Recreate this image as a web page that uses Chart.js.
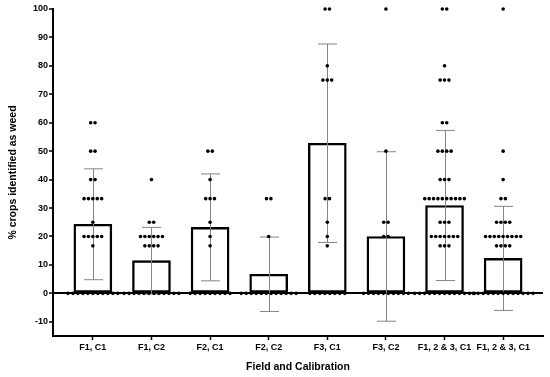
<!DOCTYPE html>
<html>
<head>
<meta charset="utf-8">
<script src="https://cdn.jsdelivr.net/npm/chart.js@4"></script>
<style>
  html, body { margin: 0; padding: 0; background: #fff; }
  canvas { display: block; }
</style>
</head>
<body>
<canvas id="weedChart" width="550" height="377"></canvas>
<script>
// ---- data ----
const categories = ["F1, C1", "F1, C2", "F2, C1", "F2, C2", "F3, C1", "F3, C2", "F1, 2 & 3, C1", "F1, 2 & 3, C1"];
const meanValues = [24.3, 11.5, 23.2, 6.7, 52.8, 20.0, 30.9, 12.3];
const sdValues   = [19.5, 11.7, 18.8, 13.1, 34.9, 29.8, 26.4, 18.3];

// individual points: how many points sit at each level, per category
const pointLevels = [100, 80, 75, 60, 50, 40, 33.3, 25, 20, 16.7, 0];
const pointCounts = [
  [0, 0, 0, 2, 2, 2, 5,  1, 5, 1, 11],  // F1, C1
  [0, 0, 0, 0, 0, 1, 0,  2, 6, 4, 12],  // F1, C2
  [0, 0, 0, 0, 2, 1, 3,  1, 1, 1, 9],   // F2, C1
  [0, 0, 0, 0, 0, 0, 2,  0, 1, 0, 12],  // F2, C2
  [2, 1, 3, 0, 0, 0, 2,  1, 1, 1, 8],   // F3, C1
  [1, 0, 0, 0, 1, 0, 0,  2, 2, 0, 10],  // F3, C2
  [2, 1, 3, 2, 4, 3, 10, 3, 7, 3, 13],  // F1, 2 & 3, C1
  [1, 0, 0, 0, 1, 1, 2,  4, 9, 4, 13]   // F1, 2 & 3, C1 (second)
];

const yTicks = [-10, 0, 10, 20, 30, 40, 50, 60, 70, 80, 90, 100];

// ---- point layout (rows centred on the category) ----
const DOT_STEP = 0.075;   // horizontal gap between tied points, in category units
const ZERO_STEP = 0.085;

const dots = [];
pointCounts.forEach((counts, ci) => {
  counts.forEach((n, li) => {
    const step = pointLevels[li] === 0 ? ZERO_STEP : DOT_STEP;
    for (let k = 0; k < n; k++) {
      dots.push({ x: ci + (k - (n - 1) / 2) * step, y: pointLevels[li] });
    }
  });
});

// ---- error bars ----
const errorBars = {
  id: "errorBars",
  afterDatasetDraw(chart, args) {
    if (args.index !== 0) return;
    const { ctx, scales } = chart;
    const xs = scales.x, ys = scales.y;
    ctx.save();
    ctx.strokeStyle = "#858585";
    ctx.lineWidth = 1;
    meanValues.forEach((m, i) => {
      const px = Math.round(xs.getPixelForValue(i)) + 0.5;
      const top = ys.getPixelForValue(m + sdValues[i]);
      const bot = ys.getPixelForValue(m - sdValues[i]);
      ctx.beginPath();
      ctx.moveTo(px, top);
      ctx.lineTo(px, bot);
      ctx.moveTo(px - 9.5, top);
      ctx.lineTo(px + 9.5, top);
      ctx.moveTo(px - 9.5, bot);
      ctx.lineTo(px + 9.5, bot);
      ctx.stroke();
    });
    ctx.restore();
  }
};

const tickFont = { family: "'Liberation Sans', Arial, sans-serif", size: 9, weight: "bold" };
const titleFont = { family: "'Liberation Sans', Arial, sans-serif", size: 10.5, weight: "bold" };

new Chart(document.getElementById("weedChart"), {
  type: "bar",
  data: {
    datasets: [
      {
        type: "bar",
        data: meanValues.map((m, i) => ({ x: i, y: m })),
        backgroundColor: "#ffffff",
        borderColor: "#000000",
        borderWidth: 2.4,
        borderSkipped: false,
        barThickness: 38,
        order: 2
      },
      {
        type: "scatter",
        data: dots,
        pointRadius: 1.8,
        pointBackgroundColor: "#000000",
        pointBorderWidth: 0,
        showLine: false,
        clip: false,
        order: 1
      }
    ]
  },
  options: {
    responsive: false,
    animation: false,
    layout: { padding: { top: 9, right: 7, left: 0, bottom: 0 } },
    plugins: {
      legend: { display: false },
      tooltip: { enabled: false }
    },
    scales: {
      x: {
        type: "linear",
        offset: false,
        min: -0.68,
        max: 7.68,
        afterBuildTicks: s => { s.ticks = categories.map((c, i) => ({ value: i })); },
        afterFit: s => { s.height = 41; },
        ticks: {
          autoSkip: false,
          maxRotation: 0,
          padding: 2,
          color: "#000",
          font: tickFont,
          callback: v => categories[v]
        },
        grid: {
          offset: false,
          drawOnChartArea: false,
          drawTicks: true,
          tickLength: 4,
          tickWidth: 1.5,
          tickColor: "#000"
        },
        border: { color: "#000", width: 2 },
        title: {
          display: true,
          text: "Field and Calibration",
          color: "#000",
          font: titleFont,
          padding: { top: 2, bottom: 4 }
        }
      },
      y: {
        min: -15,
        max: 100,
        afterBuildTicks: s => { s.ticks = yTicks.map(v => ({ value: v })); },
        afterFit: s => { s.width = 53; },
        ticks: {
          padding: 1,
          color: "#000",
          font: tickFont
        },
        grid: {
          drawOnChartArea: true,
          color: c => (c.tick && c.tick.value === 0 ? "#000" : "rgba(0,0,0,0)"),
          lineWidth: c => (c.tick && c.tick.value === 0 ? 2 : 0),
          drawTicks: true,
          tickLength: 4,
          tickWidth: 1.5,
          tickColor: "#000"
        },
        border: { color: "#000", width: 2 },
        title: {
          display: true,
          text: "% crops identified as weed",
          color: "#000",
          font: titleFont,
          padding: { top: 7, bottom: 0 }
        }
      }
    }
  },
  plugins: [errorBars]
});
</script>
</body>
</html>
